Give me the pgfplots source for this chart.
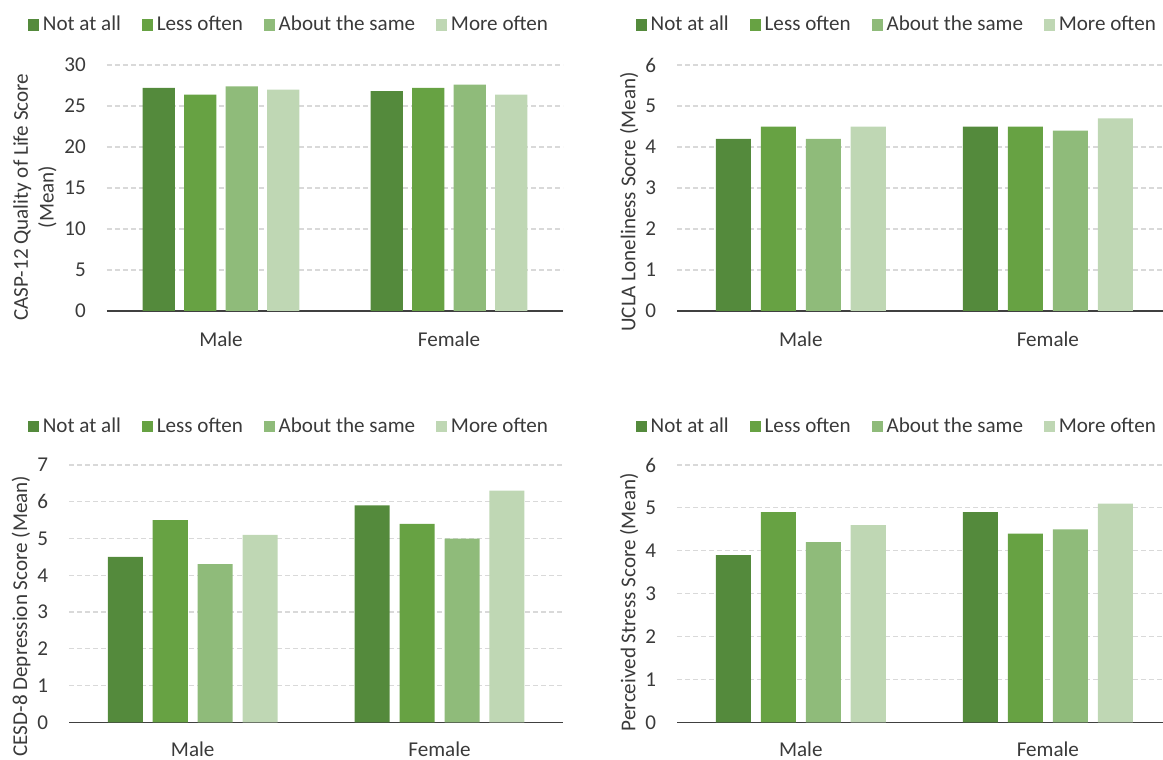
\documentclass[border=0pt]{standalone}
\usepackage{pgfplots}
\pgfplotsset{compat=1.18}
\usepackage{fontspec}
\setmainfont{Carlito}
\definecolor{c1}{HTML}{548A3C}
\definecolor{c2}{HTML}{67A243}
\definecolor{c3}{HTML}{8FBB7A}
\definecolor{c4}{HTML}{BFD7B4}
\definecolor{txt}{HTML}{3A3A3A}
\definecolor{gridc}{HTML}{D9D9D9}
\definecolor{axisc}{HTML}{404040}
\newcommand\fs{\fontsize{10.55}{12.9}\selectfont}
\pgfplotsset{
  panel/.style={
    scale only axis, anchor=south west,
    xmin=-0.5, ymin=0,
    xtick={0,1}, xticklabels={Male,Female},
    axis lines*=left,
    y axis line style={draw=none},
    x axis line style={draw=axisc, line width=0.75pt},
    tick style={draw=none}, major tick length=0pt,
    ymajorgrids,
    grid style={draw=gridc, line width=0.55pt, dash pattern=on 2.4pt off 1.6pt},
    font=\fs,
    tick label style={font=\fs, text=txt},
    yticklabel style={anchor=east, inner sep=0pt, xshift=-10.4pt},
    xticklabel style={anchor=north, inner sep=0pt, yshift=-10.4pt},
    /pgf/number format/assume math mode=true,
    legend columns=4,
    legend style={draw=none, fill=none, font=\fs, text=txt, inner sep=0pt,
      anchor=center,
      /tikz/every even column/.append style={column sep=10.5pt},
      nodes={inner sep=0pt}},
    ylabel style={anchor=center, inner sep=0pt, text=txt, align=center, font=\fs},
  },
  b1/.style={ybar, bar width=0.142, bar shift=-0.273, fill=c1, draw=none,
    legend image code/.code={\fill[c1] (0pt,-2.8pt) rectangle (5.6pt,2.8pt); \path (7.4pt,0pt);}},
  b2/.style={ybar, bar width=0.142, bar shift=-0.091, fill=c2, draw=none,
    legend image code/.code={\fill[c2] (0pt,-2.8pt) rectangle (5.6pt,2.8pt); \path (7.4pt,0pt);}},
  b3/.style={ybar, bar width=0.142, bar shift=0.091, fill=c3, draw=none,
    legend image code/.code={\fill[c3] (0pt,-2.8pt) rectangle (5.6pt,2.8pt); \path (7.4pt,0pt);}},
  b4/.style={ybar, bar width=0.142, bar shift=0.273, fill=c4, draw=none,
    legend image code/.code={\fill[c4] (0pt,-2.8pt) rectangle (5.6pt,2.8pt); \path (7.4pt,0pt);}},
}
\begin{document}
\begin{tikzpicture}
\path[use as bounding box] (0pt,0pt) rectangle (581.5pt,380pt);
% Panel 1: CASP-12
\begin{axis}[panel,
  at={(53.5pt,224.5pt)}, width=228pt, height=123pt,
  xmax=1.5, ymax=30, ytick={0,5,...,30},
  ylabel={CASP-12 Quality of Life Score\\(Mean)},
  ylabel style={at={(axis description cs:-0.158,0.463)}},
  legend style={at={(axis description cs:0.397,1.163)}},
]
\addplot[b1] coordinates {(0,27.2) (1,26.8)};
\addplot[b2] coordinates {(0,26.4) (1,27.2)};
\addplot[b3] coordinates {(0,27.4) (1,27.6)};
\addplot[b4] coordinates {(0,27.0) (1,26.4)};
\legend{Not at all, Less often, About the same, More often}
\end{axis}
% Panel 2: UCLA
\begin{axis}[panel,
  at={(338.65pt,224.5pt)}, width=242.85pt, height=123pt,
  xmax=1.466, ymax=6, ytick={0,1,...,6},
  ylabel={UCLA Loneliness Socre (Mean)},
  ylabel style={at={(axis description cs:-0.0994,0.443)}},
  legend style={at={(axis description cs:0.450,1.163)}},
]
\addplot[b1] coordinates {(0,4.2) (1,4.5)};
\addplot[b2] coordinates {(0,4.5) (1,4.5)};
\addplot[b3] coordinates {(0,4.2) (1,4.4)};
\addplot[b4] coordinates {(0,4.5) (1,4.7)};
\legend{Not at all, Less often, About the same, More often}
\end{axis}
% Panel 3: CESD-8
\begin{axis}[panel,
  at={(34.65pt,18.85pt)}, width=246.85pt, height=128.65pt,
  xmax=1.5, ymax=7, ytick={0,1,...,7},
  xticklabel style={yshift=1pt},
  ylabel={CESD-8 Depression Score (Mean)},
  ylabel style={at={(axis description cs:-0.0978,0.413)}},
  legend style={at={(axis description cs:0.443,1.149)}},
]
\addplot[b1] coordinates {(0,4.5) (1,5.9)};
\addplot[b2] coordinates {(0,5.5) (1,5.4)};
\addplot[b3] coordinates {(0,4.3) (1,5.0)};
\addplot[b4] coordinates {(0,5.1) (1,6.3)};
\legend{Not at all, Less often, About the same, More often}
\end{axis}
% Panel 4: Perceived Stress
\begin{axis}[panel,
  at={(338.65pt,18.85pt)}, width=242.85pt, height=128.65pt,
  xmax=1.466, ymax=6, ytick={0,1,...,6},
  xticklabel style={yshift=1pt},
  ylabel={Perceived Stress Score (Mean)},
  ylabel style={at={(axis description cs:-0.0994,0.4675)}},
  legend style={at={(axis description cs:0.450,1.149)}},
]
\addplot[b1] coordinates {(0,3.9) (1,4.9)};
\addplot[b2] coordinates {(0,4.9) (1,4.4)};
\addplot[b3] coordinates {(0,4.2) (1,4.5)};
\addplot[b4] coordinates {(0,4.6) (1,5.1)};
\legend{Not at all, Less often, About the same, More often}
\end{axis}
\end{tikzpicture}
\end{document}
